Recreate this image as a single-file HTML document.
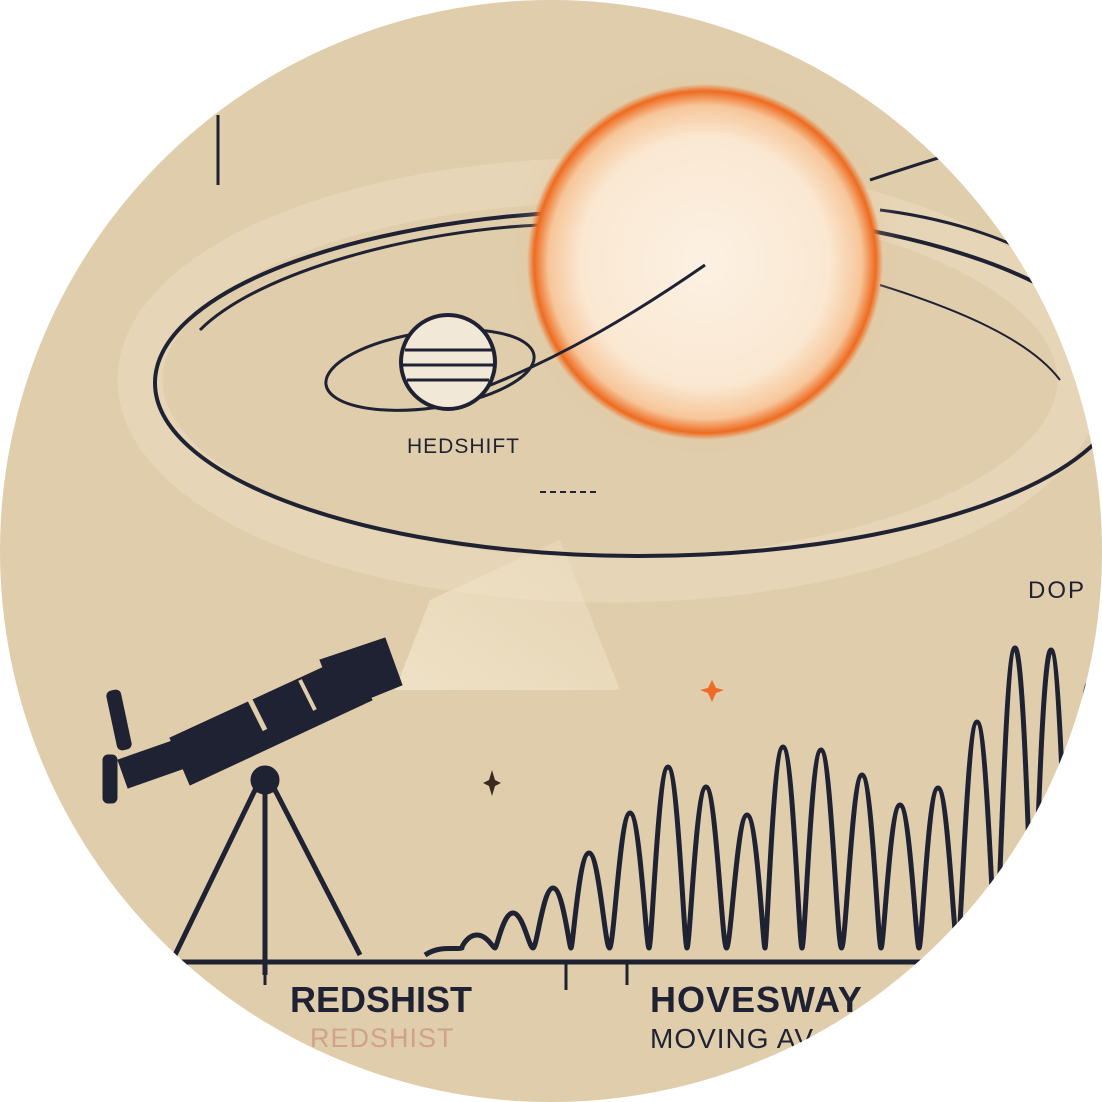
<!DOCTYPE html>
<html><head><meta charset="utf-8">
<style>
html,body{margin:0;padding:0;background:#fff;}
svg{display:block;}
text{font-family:"Liberation Sans",sans-serif;}
</style></head>
<body>
<svg width="1102" height="1102" viewBox="0 0 1102 1102" xmlns="http://www.w3.org/2000/svg">
<defs>
<clipPath id="circ"><circle cx="551" cy="551" r="551"/></clipPath>
<radialGradient id="sun" cx="0.5" cy="0.5" r="0.5">
<stop offset="0" stop-color="#fcf1e3"/>
<stop offset="0.7" stop-color="#fae8d2"/>
<stop offset="0.88" stop-color="#f7c69a"/>
<stop offset="0.96" stop-color="#ee6b20"/>
<stop offset="1" stop-color="#ee6b20" stop-opacity="0"/>
</radialGradient>
<radialGradient id="glow" cx="0.5" cy="0.5" r="0.5">
<stop offset="0.7" stop-color="#f7b27c" stop-opacity="0.5"/>
<stop offset="1" stop-color="#e0ccab" stop-opacity="0"/>
</radialGradient>
<linearGradient id="beam" x1="0" y1="1" x2="1" y2="0">
<stop offset="0" stop-color="#f3e6cc"/>
<stop offset="1" stop-color="#f3e6cc" stop-opacity="0.3"/>
</linearGradient>
</defs>
<g clip-path="url(#circ)">
<rect width="1102" height="1102" fill="#e0cdab"/>
<ellipse cx="610" cy="380" rx="470" ry="200" fill="none" stroke="#e8d8bb" stroke-width="45" opacity="0.7"/>
<path d="M395,690 L430,600 L560,540 L620,690 Z" fill="url(#beam)" opacity="0.8"/>
<ellipse cx="640" cy="383" rx="485" ry="173" fill="none" stroke="#1f2233" stroke-width="4"/>
<path d="M200,330 C260,270 420,230 540,225" fill="none" stroke="#1f2233" stroke-width="3"/>
<path d="M880,210 C960,220 1020,245 1040,260" fill="none" stroke="#1f2233" stroke-width="3"/>
<path d="M880,285 C960,310 1030,340 1060,380" fill="none" stroke="#1f2233" stroke-width="2"/>
<circle cx="705" cy="262" r="200" fill="url(#glow)"/>
<circle cx="705" cy="262" r="178" fill="url(#sun)"/>
<path d="M465,395 C560,360 640,310 705,265" fill="none" stroke="#1f2233" stroke-width="3"/>
<ellipse cx="430" cy="370" rx="105" ry="38" fill="none" stroke="#1f2233" stroke-width="3" transform="rotate(-8 430 370)"/>
<circle cx="448" cy="362" r="47" fill="#f2e8d8" stroke="#1f2233" stroke-width="4"/>
<g stroke="#1f2233" stroke-width="3">
<line x1="405" y1="350" x2="492" y2="350"/><line x1="402" y1="365" x2="494" y2="365"/><line x1="407" y1="380" x2="489" y2="380"/></g>
<path d="M870,180 C900,170 930,160 965,150" fill="none" stroke="#1f2233" stroke-width="3"/>
<line x1="218" y1="115" x2="218" y2="185" stroke="#1f2233" stroke-width="3"/>
<line x1="540" y1="492" x2="600" y2="492" stroke="#1f2233" stroke-width="2" stroke-dasharray="6 4"/>
<text x="407" y="453" font-size="21" fill="#1f2233" letter-spacing="1">HEDSHIFT</text>
<text x="1028" y="598" font-size="24" fill="#1f2233" letter-spacing="2">DOP</text>
<g fill="#1f2233" stroke="#1f2233">
<path d="M175,955 L255,790 L275,790 L360,955" fill="none" stroke-width="5"/>
<line x1="265" y1="790" x2="265" y2="975" stroke-width="5"/>
<circle cx="265" cy="780" r="14" fill="#1f2233"/>
<path d="M170,738 L350,655 L372,700 L190,785 Z" fill="#1f2233"/>
<path d="M320,660 L385,638 L402,685 L340,710 Z" fill="#1f2233"/>
<path d="M250,700 L265,730" stroke="#e0cdab" stroke-width="5"/>
<path d="M300,680 L315,710" stroke="#e0cdab" stroke-width="4"/>
<path d="M118,760 L175,740 L185,768 L128,788 Z" fill="#1f2233"/>
<rect x="103" y="755" width="14" height="48" rx="5"/>
<rect x="112" y="690" width="14" height="60" rx="5" transform="rotate(-12 119 720)"/>
</g>
<line x1="170" y1="962" x2="935" y2="962" stroke="#1f2233" stroke-width="5"/>
<line x1="265" y1="962" x2="265" y2="985" stroke="#1f2233" stroke-width="3"/>
<line x1="566" y1="962" x2="566" y2="990" stroke="#1f2233" stroke-width="3"/>
<line x1="627" y1="962" x2="627" y2="985" stroke="#1f2233" stroke-width="3"/>
<path d="M712,680 l4,8 l8,2 l-8,3 l-4,9 l-4,-9 l-8,-3 l8,-2 z" fill="#ee6b2a"/>
<path d="M492,770 l3,10 l6,3 l-6,3 l-3,10 l-3,-10 l-6,-3 l6,-3 z" fill="#3a2a22"/>
<g id="wave"></g>
<text x="290" y="1012" font-size="36" font-weight="bold" fill="#1f2233">REDSHIST</text>
<text x="310" y="1047" font-size="27" fill="#c9907a" opacity="0.7" letter-spacing="1">REDSHIST</text>
<text x="650" y="1012" font-size="36" font-weight="bold" fill="#1f2233" letter-spacing="1">HOVESWAY</text>
<text x="650" y="1048" font-size="28" fill="#1f2233" letter-spacing="1">MOVING AV</text>
</g>
</svg>
<script>
const peakX=[477,513,553,589,630,668,706,747,783,821,862,900,938,977,1015,1051,1089];
const peakY=[935,913,888,853,813,767,787,815,747,750,775,805,788,722,648,650,683];
const baseY=948;
const g=document.getElementById('wave');
let d='M425,955 C440,945 455,950 462,948';
for(let i=0;i<peakX.length;i++){
  const x=peakX[i],y=peakY[i],w=12;
  const prevEnd=i===0?462:(peakX[i-1]+x)/2;
  const nextEnd=i<peakX.length-1?(x+peakX[i+1])/2:x+w;
  d+=` L${prevEnd},${baseY} C${x-w-4},${baseY} ${x-w+2},${y} ${x},${y} C${x+w-2},${y} ${x+w+4},${baseY} ${nextEnd},${baseY}`;
}
const p=document.createElementNS('http://www.w3.org/2000/svg','path');


p.setAttribute('d',d);
p.setAttribute('fill','none');
p.setAttribute('stroke','#1f2233');
p.setAttribute('stroke-width','5');
p.setAttribute('stroke-linejoin','round');
g.appendChild(p);
</script>
</body></html>
